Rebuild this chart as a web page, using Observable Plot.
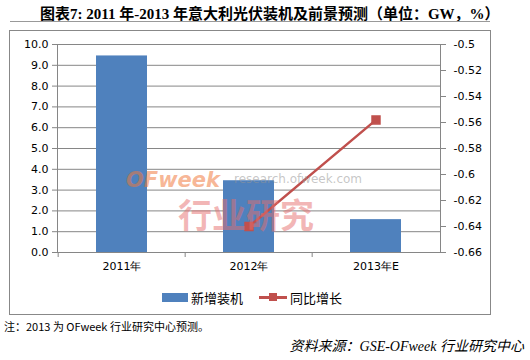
<!DOCTYPE html>
<html><head><meta charset="utf-8">
<script src="https://cdn.jsdelivr.net/npm/d3@7"></script>
<script src="https://cdn.jsdelivr.net/npm/@observablehq/plot@0.6"></script>
<style>
body{margin:0;width:530px;height:360px;background:#fff;position:relative;overflow:hidden;font-family:"DejaVu Sans",Verdana,sans-serif;}
#title{position:absolute;left:40px;top:2px;white-space:nowrap;font:bold 15px "Liberation Serif","Noto Sans CJK SC",serif;color:#000;}
#sep{position:absolute;left:10px;top:21px;width:480px;border-top:1px solid #999;}
#box{position:absolute;left:9px;top:30px;width:480px;height:283px;border:1px solid #888;}
#chart{position:absolute;left:10px;top:31px;}
#legend{position:absolute;top:288px;left:162px;font:13px "Noto Sans CJK SC",sans-serif;color:#000;display:flex;align-items:center;}
#legend .sw{display:inline-block;width:26px;height:9px;background:#4F81BD;margin-right:3px;}
#legend .ln{position:relative;display:inline-block;width:28px;height:3px;background:#C0504D;margin:0 3px 0 16px;}
#legend .ln i{position:absolute;left:10px;top:-3px;width:8px;height:8px;background:#C0504D;}
#note{position:absolute;left:4px;top:318px;font:11px "Noto Sans CJK SC","DejaVu Sans",sans-serif;color:#000;}
#src{position:absolute;right:6px;top:335px;font:italic 14px "Liberation Serif","Noto Sans CJK SC",serif;color:#000;}
.wm{position:absolute;white-space:nowrap;pointer-events:none;line-height:1;}
</style></head>
<body>
<div id="title">图表7: 2011 年-2013 年意大利光伏装机及前景预测（单位：GW，%）</div>
<div id="sep"></div>
<div id="box"></div>
<div id="chart"></div>
<div class="wm" style="left:126px;top:168px;font:italic bold 21px 'DejaVu Sans',sans-serif;color:rgba(240,120,60,0.55);">OFweek</div>
<div class="wm" style="left:234px;top:172px;font:12px 'DejaVu Sans',sans-serif;color:rgba(150,150,150,0.55);">research.ofweek.com</div>
<div class="wm" style="left:178px;top:189px;font:bold 34px 'Noto Sans CJK SC',sans-serif;color:rgba(230,110,110,0.5);">行业研究</div>
<div id="legend"><span class="sw"></span>新增装机<span class="ln"><i></i></span>同比增长</div>
<div id="note">注：2013 为 OFweek 行业研究中心预测。</div>
<div id="src">资料来源：GSE-OFweek 行业研究中心</div>
<script>
const categories = ["2011年", "2012年", "2013年E"];
const installs = [9.45, 3.45, 1.58];
const growthCats = ["2012年", "2013年E"];
const growth = [-0.640, -0.558];
const leftTicks = [0,1,2,3,4,5,6,7,8,9,10];
const rightTicks = [-0.66,-0.64,-0.62,-0.6,-0.58,-0.56,-0.54,-0.52,-0.5];

const rMin = -0.66, rMax = -0.5, lMax = 10;
const toLeft = v => (v - rMin) / (rMax - rMin) * lMax;
const fromLeft = y => rMin + y / lMax * (rMax - rMin);

const bars = categories.map((c, i) => ({cat: c, v: installs[i]}));
const line = growthCats.map((c, i) => ({cat: c, v: growth[i], y: toLeft(growth[i])}));

const W = 480, H = 254;
const ml = 47, mr = 50;
const step = (W - ml - mr) / categories.length;

const plot = Plot.plot({
  width: W, height: H,
  marginLeft: ml, marginRight: mr, marginTop: 13, marginBottom: 33,
  style: {fontFamily: "'DejaVu Sans', Verdana, sans-serif", fontSize: "11px", color: "#000", background: "transparent"},
  x: {domain: categories, paddingInner: 0.6, paddingOuter: 0.3, label: null},
  y: {domain: [0, lMax], label: null},
  marks: [
    Plot.gridY(leftTicks, {stroke: "#868686", strokeOpacity: 1}),
    Plot.barY(bars, {x: "cat", y: "v", fill: "#4F81BD"}),
    Plot.frame({stroke: "#868686"}),
    Plot.axisY(leftTicks, {anchor: "left", tickSize: 5, tickPadding: 4, stroke: "#868686", tickFormat: d3.format(".1f"), fill: "#000"}),
    Plot.axisY(rightTicks.map(toLeft), {anchor: "right", tickSize: 5, tickPadding: 8, stroke: "#868686", tickFormat: d => String(+fromLeft(d).toFixed(2)), fill: "#000"}),
    Plot.axisX({anchor: "bottom", tickSize: 5, dx: -step / 2, text: null, stroke: "#868686"}),
    Plot.axisX({anchor: "bottom", tickSize: 0, tickPadding: 10, stroke: "none", fill: "#000"}),
    Plot.line(line, {x: "cat", y: "y", stroke: "#C0504D", strokeWidth: 2.5}),
    Plot.dot(line, {x: "cat", y: "y", symbol: "square", r: 4.5, fill: "#C0504D", stroke: "#C0504D"})
  ]
});
document.getElementById("chart").appendChild(plot);
</script>
</body></html>
